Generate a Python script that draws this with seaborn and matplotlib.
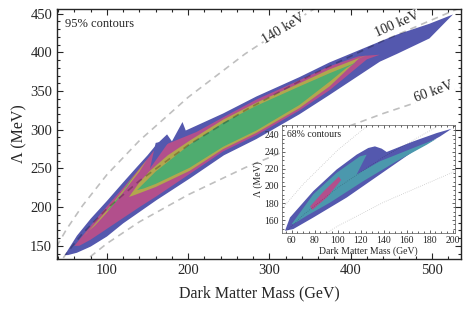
import numpy as np
import matplotlib
matplotlib.use('Agg')
import matplotlib.pyplot as plt
import seaborn as sns
from matplotlib.ticker import MultipleLocator, FixedLocator

# ---- curves of constant mass (keV) ----
kev_labels = ['140 keV', '100 keV', '60 keV']
kev_m = [38, 50, 70, 100, 140, 200, 270, 350, 440, 540]
kev140 = [149, 171, 202, 242, 286, 342, 398, 453, 508, 562]
kev100 = [122, 140, 166, 198, 234, 280, 325, 370, 415, 460]
kev60 = [94, 108, 128, 153, 181, 216, 251, 286, 321, 356]

# ---- 95% contours (main panel), outlines as (mass, Lambda) ----
blue_m = [48, 54, 63, 80, 100, 120, 137, 150, 161, 174, 180, 193, 197, 220, 243, 284, 337, 374, 436, 457, 497, 526,
          497, 457, 436, 374, 337, 284, 244, 202, 161, 120, 100, 80, 63, 52]
blue_l = [138, 148, 163, 185, 208, 232, 252, 267, 281, 294, 285, 310, 299, 310, 321, 343, 368, 387, 414, 423, 437, 449,
          418, 398, 388, 345, 320, 288, 267, 237, 209, 179, 162, 149, 141, 138]

pink_m = [60, 70, 80, 100, 120, 140, 152, 160, 163, 175, 210, 243, 284, 337, 374, 410, 436,
          420, 374, 337, 284, 243, 202, 161, 140, 120, 100, 80, 66]
pink_l = [150, 163, 176, 201, 225, 250, 265, 276, 274, 282, 297, 316, 339, 364, 382, 395, 397,
          391, 351, 325, 293, 272, 243, 214, 200, 186, 172, 158, 150]

wedge_m = [160, 153, 178]
wedge_l = [283, 250, 287]

olive1_m = [72, 85, 100, 120, 135, 149, 140, 125, 110, 100, 85, 75]
olive1_l = [163, 178, 196, 222, 242, 261, 246, 226, 206, 193, 176, 167]

green1_m = [100, 112, 125, 134, 127, 112, 102]
green1_l = [195, 210, 227, 242, 232, 208, 196]

olive2_m = [127, 140, 153, 175, 202, 243, 284, 337, 374, 421, 410, 374, 337, 284, 243, 202, 160, 135]
olive2_l = [213, 232, 247, 267, 286, 313, 335, 360, 378, 397, 392, 356, 328, 296, 275, 247, 226, 216]

green2_m = [137, 160, 202, 243, 284, 337, 374, 407, 395, 374, 337, 284, 243, 202, 160, 145]
green2_l = [222, 246, 281, 309, 331, 356, 373, 387, 380, 362, 332, 299, 278, 251, 230, 224]

# ---- 68% contours (inset) ----
iblue_m = [54.2, 58.5, 78.8, 99.1, 116.5, 126.6, 132.4, 138.3, 142.6, 165.7, 186.1, 199.1, 189, 165.7, 136.8, 107.8, 78.8, 61.4]
iblue_l = [147.5, 163, 194, 219.3, 236.7, 244.5, 246.4, 243.7, 239.8, 252.2, 262, 267, 258, 240.5, 213.5, 186.4, 163, 149.5]

iteal_m = [60, 78.8, 99.1, 119.4, 125.2, 116.5, 136.8, 165.7, 186, 177.4, 151.3, 122.3, 93.3, 73, 61.4]
iteal_l = [155.3, 190.2, 215.4, 234.7, 236.7, 213.5, 229, 244.5, 255.3, 248.3, 229, 205.7, 180.5, 165, 155.3]

ipink_m = [76, 88, 101, 103, 91, 78]
ipink_l = [176, 194, 211, 207, 187, 172]

inset_yticklabels = ['160', '180', '200', '220', '240', '240']

BLUE = '#5458ae'
PINK = '#b24f8c'
OLIVE = '#b2a74d'
GREEN = '#4fac6f'
TEAL = '#4b98ad'

sns.set_style('ticks')
plt.rcParams['font.family'] = ['Liberation Serif', 'DejaVu Serif']

fig = plt.figure(figsize=(4.71, 3.12), dpi=100)
ax = fig.add_axes([0.121, 0.170, 0.858, 0.801])

for xs, ys, c in [(blue_m, blue_l, BLUE), (pink_m, pink_l, PINK), (wedge_m, wedge_l, BLUE),
                  (olive1_m, olive1_l, OLIVE), (green1_m, green1_l, GREEN),
                  (olive2_m, olive2_l, OLIVE), (green2_m, green2_l, GREEN)]:
    ax.fill(xs, ys, color=c, lw=0, zorder=2)

for ys in [kev140, kev100, kev60]:
    sns.lineplot(x=kev_m, y=ys, ax=ax, color='black', alpha=0.25, lw=1.2,
                 linestyle=(0, (4, 3)), sort=False, estimator=None, zorder=3)

lbl_kw = dict(fontsize=10, ha='center', va='center', zorder=4,
              bbox=dict(facecolor='white', edgecolor='none', pad=0.5))
ax.text(318, 431, kev_labels[0], rotation=31, **lbl_kw)
ax.text(457, 436, kev_labels[1], rotation=24, **lbl_kw)
ax.text(502, 349, kev_labels[2], rotation=20, **lbl_kw)

ax.text(0.02, 0.965, '95% contours', transform=ax.transAxes, fontsize=9, va='top', ha='left')

ax.set_xlim(38.5, 536)
ax.set_ylim(133, 456)
ax.xaxis.set_major_locator(MultipleLocator(100))
ax.xaxis.set_minor_locator(MultipleLocator(20))
ax.yaxis.set_major_locator(MultipleLocator(50))
ax.yaxis.set_minor_locator(MultipleLocator(10))
ax.tick_params(which='both', direction='in', top=True, right=True, labelsize=10.5, width=0.8)
ax.tick_params(which='major', length=4)
ax.tick_params(which='minor', length=2)
for s in ax.spines.values():
    s.set_linewidth(1.0)
ax.set_xlabel('Dark Matter Mass (GeV)', fontsize=11.5, labelpad=6)
ax.set_ylabel('Λ (MeV)', fontsize=11.5, labelpad=2)

# inset
ins = fig.add_axes([0.598, 0.254, 0.368, 0.345])
ins.set_facecolor('white')
for xs, ys, c in [(iblue_m, iblue_l, BLUE), (iteal_m, iteal_l, TEAL), (ipink_m, ipink_l, PINK)]:
    ins.fill(xs, ys, color=c, lw=0, zorder=2)
for ys in [kev140, kev100, kev60]:
    sns.lineplot(x=kev_m, y=ys, ax=ins, color='black', alpha=0.22, lw=0.6,
                 linestyle=(0, (1, 1.5)), sort=False, estimator=None, zorder=3)
ins.set_xlim(51.3, 202)
ins.set_ylim(145.2, 271.3)
ins.xaxis.set_major_locator(MultipleLocator(20))
ins.xaxis.set_minor_locator(MultipleLocator(5))
ins.yaxis.set_major_locator(FixedLocator([160, 180, 200, 220, 240, 260]))
ins.set_yticklabels(inset_yticklabels)
ins.yaxis.set_minor_locator(MultipleLocator(5))
ins.tick_params(which='both', direction='in', top=True, right=True, labelsize=7, width=0.5, pad=2)
ins.tick_params(which='major', length=2.5)
ins.tick_params(which='minor', length=1.2)
for s in ins.spines.values():
    s.set_linewidth(0.5)
    s.set_color('#555555')
ins.set_xlabel('Dark Matter Mass (GeV)', fontsize=7, labelpad=1)
ins.set_ylabel('Λ (MeV)', fontsize=7, labelpad=1)
ins.text(0.03, 0.95, '68% contours', transform=ins.transAxes, fontsize=7, va='top', ha='left')

fig.savefig('out.png', dpi=100)
